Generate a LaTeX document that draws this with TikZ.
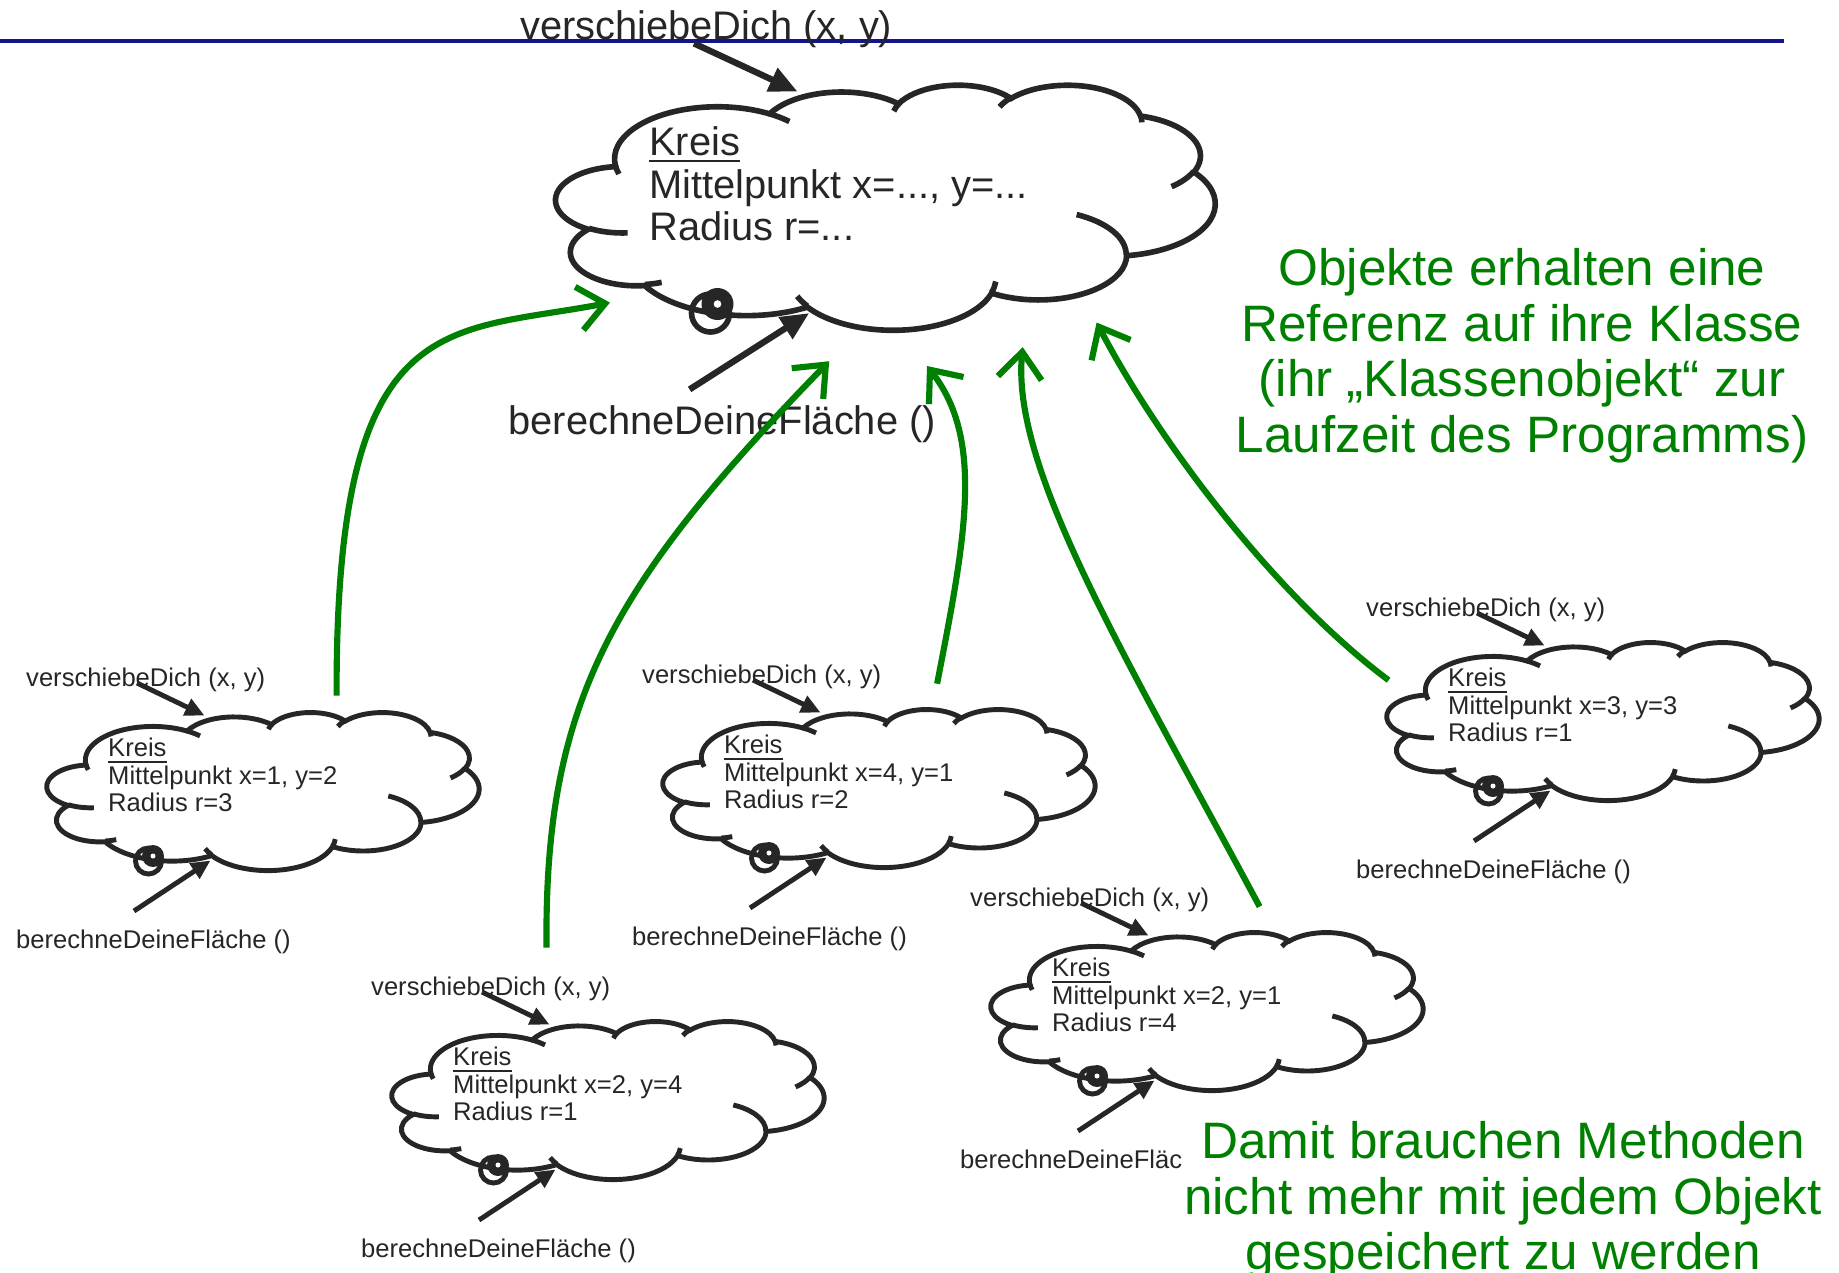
\documentclass[tikz,border=0pt]{standalone}
\usepackage{fontspec}
\setmainfont{Liberation Sans}
\usetikzlibrary{arrows.meta}
\definecolor{dark}{RGB}{38,38,38}
\definecolor{ggreen}{RGB}{0,128,0}
\definecolor{navyline}{RGB}{20,20,140}

% PowerPoint-style cloud outline in a 43.2 x 43.2 frame
\newcommand\drawcloud[5]{%
\begin{scope}[shift={(#1,#2)}, xscale=#3/43.2, yscale=#4/43.2]
\draw[#5] (3.9,14.37)
  arc[start angle=172.25, end angle=300.36, x radius=6.753, y radius=9.19]
  arc[start angle=207.98, end angle=314.55, x radius=5.333, y radius=7.267]
  arc[start angle=206.51, end angle=322.67, x radius=4.365, y radius=5.945]
  arc[start angle=220.28, end angle=349.78, x radius=4.857, y radius=6.595]
  arc[start angle=285.23, end angle=383.21, x radius=5.333, y radius=7.273]
  arc[start angle=-37.53, end angle=81.86, x radius=6.775, y radius=9.22]
  arc[start angle=0.46, end angle=121.98, x radius=5.785, y radius=7.867]
  arc[start angle=16.84, end angle=146.23, x radius=6.752, y radius=9.215]
  arc[start angle=58.98, end angle=150.18, x radius=7.72, y radius=10.543]
  arc[start angle=83.31, end angle=223.12, x radius=4.36, y radius=5.918]
  arc[start angle=120.36, end angle=264.11, x radius=4.345, y radius=5.945]
  -- cycle;
\draw[#5]
  (4.693,26.177) arc[start angle=85.54, end angle=120.36, x radius=4.345, y radius=5.945]
  (6.928,34.899) arc[start angle=68.23, end angle=83.31, x radius=4.36, y radius=5.918]
  (16.478,39.09) arc[start angle=146.23, end angle=158.47, x radius=6.752, y radius=9.215]
  (28.827,34.751) arc[start angle=4.73, end angle=16.84, x radius=6.752, y radius=9.215]
  (34.129,22.954) arc[start angle=-64.02, end angle=0.46, x radius=5.785, y radius=7.867]
  (41.798,15.354) arc[start angle=23.21, end angle=49.64, x radius=5.333, y radius=7.273]
  (38.324,5.426) arc[start angle=-10.22, end angle=0.82, x radius=4.857, y radius=6.595]
  (29.078,3.952) arc[start angle=203.70, end angle=220.28, x radius=4.857, y radius=6.595]
  (22.141,4.72) arc[start angle=192.28, end angle=206.51, x radius=4.365, y radius=5.945]
  (14.0,5.192) arc[start angle=-59.64, end angle=-45.73, x radius=6.753, y radius=9.19]
  (4.127,15.789) arc[start angle=163.19, end angle=172.25, x radius=6.753, y radius=9.19];
\end{scope}}

% small "Kreis" object: name, x0, y0, line 2, line 3
\newcommand\kreisobj[5]{%
  \drawcloud{#2}{#3}{432}{158}{smallcloud}
  \begin{scope}[shift={(#2,#3)}]
    \node[smalltxt, anchor=north west, align=left] (#1-txt) at (60.5,25.6) {\underline{Kreis}\\#4\\#5};
    \draw[smallcloud] (101.5,149) circle[radius=13];
    \fill[dark] (106,144) circle[radius=11];
    \fill[white] (106,144) circle[radius=2.5];
    \node[smalltxt, anchor=base west] (#1-vd) at (-21.5,-26) {verschiebeDich (x, y)};
    \node[smalltxt, anchor=base west] (#1-bf) at (-31.5,236.5) {berechneDeineFläche ()};
    \coordinate (#1-vs) at (90,-29);
    \coordinate (#1-vt) at (157.5,3.5);
    \coordinate (#1-bs) at (87,199);
    \coordinate (#1-bt) at (163.5,148.5);
    \draw[smallarrow] (#1-vs) -- (#1-vt);
    \draw[smallarrow] (#1-bs) -- (#1-bt);
  \end{scope}}

\begin{document}
\begin{tikzpicture}[x=0.01cm, y=-0.01cm,
  smallcloud/.style={draw=dark, line width=1.4pt},
  bigcloud/.style={draw=dark, line width=1.6pt},
  smalltxt/.style={inner sep=0pt, text=dark, font=\fontsize{7.28}{7.74}\selectfont},
  bigtxt/.style={inner sep=0pt, text=dark, font=\fontsize{11.33}{12}\selectfont},
  greentxt/.style={inner sep=0pt, text=ggreen, font=\fontsize{14.57}{15.8}\selectfont},
  smallarrow/.style={draw=dark, line width=1.4pt, -{Triangle[length=5.5pt, width=5pt]}},
  bigarrow/.style={draw=dark, line width=1.8pt, -{Triangle[length=8pt, width=7pt]}},
  greenarrow/.style={draw=ggreen, line width=1.75pt, -{Straight Barb[length=7.5pt, width=12.5pt]}},
  blueline/.style={draw=navyline, line width=0.9pt}]
\useasboundingbox (0,0) rectangle (1839,1272);

% top rule
\coordinate (ruleL) at (0,41);
\coordinate (ruleR) at (1784,41);
\draw[blueline] (ruleL) -- (ruleR);

% class object (big cloud)
\drawcloud{556}{84.4}{659}{245}{bigcloud}
\node[bigtxt, anchor=north west, align=left] (kreis-txt) at (648.6,126.3) {\underline{Kreis}\\Mittelpunkt x=..., y=...\\Radius r=...};
\draw[bigcloud] (710.5,313) circle[radius=19];
\fill[dark] (717.5,304) circle[radius=16];
\fill[white] (717.5,304) circle[radius=3.8];
\node[bigtxt, anchor=base west] (kreis-vd) at (519.6,39) {verschiebeDich (x, y)};
\node[bigtxt, anchor=base west] (kreis-bf) at (507.8,434) {berechneDeineFläche ()};
\coordinate (kreis-vs) at (694,43.4);
\coordinate (kreis-vt) at (797.5,91.5);
\coordinate (kreis-bs) at (689.6,389.4);
\coordinate (kreis-bt) at (809.2,313.1);
\draw[bigarrow] (kreis-vs) -- (kreis-vt);
\draw[bigarrow] (kreis-bs) -- (kreis-bt);

% objects
\kreisobj{k1}{47}{712}{Mittelpunkt x=1, y=2}{Radius r=3}
\kreisobj{k2}{663}{709}{Mittelpunkt x=4, y=1}{Radius r=2}
\kreisobj{k3}{392}{1021}{Mittelpunkt x=2, y=4}{Radius r=1}
\kreisobj{k5}{991}{932}{Mittelpunkt x=2, y=1}{Radius r=4}
\kreisobj{k6}{1387}{642}{Mittelpunkt x=3, y=3}{Radius r=1}

% references to the class object
\coordinate (g1s) at (336.6,695.5);  \coordinate (g1e) at (609.9,302.6);
\coordinate (g2s) at (546.5,947.6);  \coordinate (g2e) at (829.2,361.2);
\coordinate (g3s) at (937.1,683.7);  \coordinate (g3e) at (927,366);
\coordinate (g4s) at (1259.6,906.6); \coordinate (g4e) at (1022.7,347.1);
\coordinate (g5s) at (1388.6,680.2); \coordinate (g5e) at (1096.6,322.5);
\draw[greenarrow] (g1s) .. controls (335.4,304.9) and (445.7,334.2) .. (g1e);
\draw[greenarrow] (g2s) .. controls (544.2,703.7) and (609.9,586.4) .. (g2e);
\draw[greenarrow] (g3s) .. controls (965,540) and (985,440) .. (g3e);
\draw[greenarrow] (g4s) .. controls (1125.9,656.8) and (1011,469.1) .. (g4e);
\draw[greenarrow] (g5s) .. controls (1278.4,598.1) and (1161.1,445.7) .. (g5e);

% notes
\node[greentxt, anchor=north, align=center] (note1) at (1522,247.6)
  {Objekte erhalten eine\\Referenz auf ihre Klasse\\(ihr „Klassenobjekt“ zur\\Laufzeit des Programms)};
\node[greentxt, anchor=north, align=center, fill=white, minimum width=6.42cm, inner xsep=0pt] (note2) at (1503,1121)
  {Damit brauchen Methoden\\nicht mehr mit jedem Objekt\\gespeichert zu werden};
\end{tikzpicture}
\end{document}
